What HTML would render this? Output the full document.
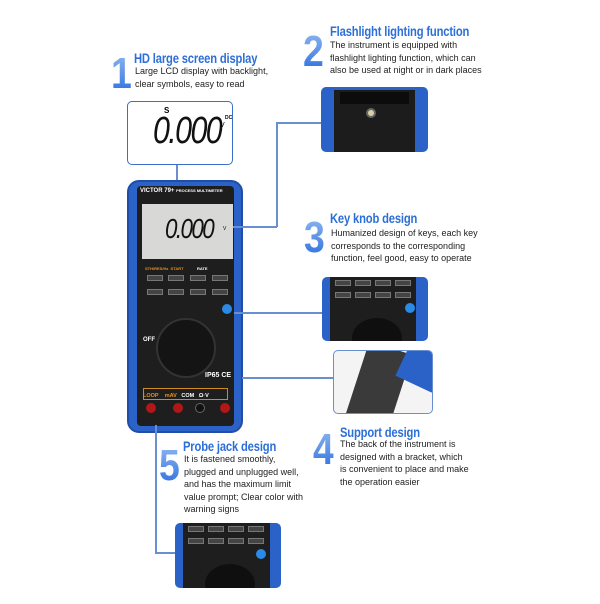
<!DOCTYPE html>
<html><head><meta charset="utf-8"><style>
*{margin:0;padding:0;box-sizing:border-box}
body{width:600px;height:600px;background:#fff;position:relative;overflow:hidden;font-family:"Liberation Sans",sans-serif}
.a{position:absolute}
.num{position:absolute;font-family:"Liberation Sans",sans-serif;font-weight:bold;color:#3a7de0;font-size:44px;line-height:44px;transform:scaleX(0.85);transform-origin:left top;background:linear-gradient(#8fb8f0,#2a6de0);-webkit-background-clip:text;background-clip:text;-webkit-text-fill-color:transparent}
.ttl{position:absolute;font-weight:bold;color:#2c6fd8;font-size:14px;letter-spacing:-0.2px;transform:scaleX(0.8);transform-origin:left top;white-space:nowrap}
.txt{position:absolute;font-size:9px;line-height:12.5px;color:#222;white-space:nowrap}
.ln{position:absolute;background:#6a8fd0}
.key{position:absolute;background:#444;border:1px solid #777;height:6px;width:16px}
</style></head><body>

<!-- 1 -->
<div class="num" style="left:111px;top:52px">1</div>
<div class="ttl" style="left:134px;top:50px">HD large screen display</div>
<div class="txt" style="left:135px;top:65px">Large LCD display with backlight,<br>clear symbols, easy to read</div>
<div class="a" style="left:127px;top:101px;width:106px;height:64px;border:1.5px solid #3b6fc8;border-radius:5px;background:#fff"></div>
<div class="a" style="left:164px;top:106px;font-size:8px;font-weight:bold">S</div>
<div class="a" style="left:153px;top:110px;font-family:'Liberation Sans';font-style:italic;font-size:38px;letter-spacing:-2px;transform:scaleX(0.8);transform-origin:left top;color:#111">0.000</div>
<div class="a" style="left:220px;top:122px;font-size:7px">V</div>
<div class="a" style="left:225px;top:115px;font-size:5px;font-weight:bold">DC</div>
<div class="ln" style="left:176px;top:165px;width:1.5px;height:22px"></div>

<!-- meter -->
<div class="a" style="left:127px;top:180px;width:116px;height:253px;background:#2a62c8;border-radius:12px;border:2px solid #1f4da8"></div>
<div class="a" style="left:137px;top:186px;width:97px;height:240px;background:#1e1e1e;border-radius:4px"></div>
<div class="a" style="left:140px;top:188px;font-size:6px;color:#fff;font-weight:bold">VICTOR 79+ <span style="font-size:4px">PROCESS MULTIMETER</span></div>
<div class="a" style="left:142px;top:204px;width:91px;height:55px;background:#d8d8d6"></div>
<div class="a" style="left:165px;top:213px;font-style:italic;font-size:28px;letter-spacing:-2px;transform:scaleX(0.8);transform-origin:left top;color:#111">0.000</div>
<div class="a" style="left:223px;top:226px;font-size:5px">V</div>
<div class="a" style="left:145px;top:266px;font-size:4px;color:#e89020;font-weight:bold">STH/RES/Hz&nbsp;&nbsp;START&nbsp;&nbsp;&nbsp;&nbsp;&nbsp;&nbsp;&nbsp;&nbsp;&nbsp;&nbsp;&nbsp;&nbsp;<span style="color:#fff">RATE</span></div>
<div class="key" style="left:147px;top:275px"></div><div class="key" style="left:168px;top:275px"></div><div class="key" style="left:190px;top:275px"></div><div class="key" style="left:212px;top:275px"></div>
<div class="key" style="left:147px;top:289px"></div><div class="key" style="left:168px;top:289px"></div><div class="key" style="left:190px;top:289px"></div><div class="key" style="left:212px;top:289px"></div>
<div class="a" style="left:156px;top:318px;width:60px;height:60px;border-radius:50%;background:#141414;border:2px solid #333"></div>
<div class="a" style="left:222px;top:304px;width:10px;height:10px;border-radius:50%;background:#2a8ae8"></div>
<div class="a" style="left:143px;top:337px;font-size:6px;color:#fff;font-weight:bold">OFF</div>
<div class="a" style="left:205px;top:372px;font-size:7px;color:#fff;font-weight:bold">IP65 CE</div>
<div class="a" style="left:143px;top:388px;width:85px;height:12px;border:1px solid #d08a20"></div>
<div class="a" style="left:143px;top:393px;font-size:5.5px;color:#e89020;font-weight:bold">LOOP&nbsp;&nbsp;&nbsp;&nbsp;mAV&nbsp;&nbsp;&nbsp;<span style="color:#fff">COM&nbsp;&nbsp;&nbsp;Ω·V</span></div>
<div class="a" style="left:146px;top:403px;width:10px;height:10px;border-radius:50%;background:#b01818"></div>
<div class="a" style="left:173px;top:403px;width:10px;height:10px;border-radius:50%;background:#b01818"></div>
<div class="a" style="left:195px;top:403px;width:10px;height:10px;border-radius:50%;background:#111;border:1px solid #666"></div>
<div class="a" style="left:220px;top:403px;width:10px;height:10px;border-radius:50%;background:#b01818"></div>

<!-- 2 -->
<div class="num" style="left:303px;top:30px">2</div>
<div class="ttl" style="left:330px;top:23px">Flashlight lighting function</div>
<div class="txt" style="left:330px;top:39px">The instrument is equipped with<br>flashlight lighting function, which can<br>also be used at night or in dark places</div>
<div class="ln" style="left:233px;top:226px;width:44px;height:1.5px"></div>
<div class="ln" style="left:276px;top:122px;width:1.5px;height:105px"></div>
<div class="ln" style="left:276px;top:122px;width:46px;height:1.5px"></div>
<div class="a" style="left:321px;top:87px;width:107px;height:65px;background:#2a62c8;border-radius:5px"></div>
<div class="a" style="left:334px;top:90px;width:81px;height:62px;background:#1c1c1c"></div>
<div class="a" style="left:340px;top:92px;width:69px;height:12px;background:#0c0c0c"></div>
<div class="a" style="left:366px;top:108px;width:10px;height:10px;border-radius:50%;background:#d8cfa8;border:2px solid #666"></div>

<!-- 3 -->
<div class="num" style="left:304px;top:216px">3</div>
<div class="ttl" style="left:330px;top:210px">Key knob design</div>
<div class="txt" style="left:331px;top:227px">Humanized design of keys, each key<br>corresponds to the corresponding<br>function, feel good, easy to operate</div>
<div class="ln" style="left:234px;top:312px;width:88px;height:1.5px"></div>
<div class="a" style="left:322px;top:277px;width:106px;height:64px;background:#2a62c8;border-radius:5px"></div>
<div class="a" style="left:330px;top:277px;width:86px;height:64px;background:#1e1e1e"></div>
<div class="key" style="left:335px;top:280px"></div><div class="key" style="left:355px;top:280px"></div><div class="key" style="left:375px;top:280px"></div><div class="key" style="left:395px;top:280px"></div>
<div class="key" style="left:335px;top:292px"></div><div class="key" style="left:355px;top:292px"></div><div class="key" style="left:375px;top:292px"></div><div class="key" style="left:395px;top:292px"></div>
<div class="a" style="left:352px;top:318px;width:50px;height:40px;border-radius:50%;background:#0f0f0f;clip-path:inset(0 0 17px 0)"></div>
<div class="a" style="left:405px;top:303px;width:10px;height:10px;border-radius:50%;background:#2a8ae8"></div>

<!-- support image -->
<div class="ln" style="left:242px;top:377px;width:91px;height:1.5px"></div>
<div class="a" style="left:333px;top:350px;width:100px;height:64px;border:1.5px solid #6a8fd0;border-radius:5px;background:#f4f4f4;overflow:hidden">
  <div class="a" style="left:22px;top:-5px;width:45px;height:80px;background:#3a3a3a;transform:rotate(18deg)"></div>
  <div class="a" style="left:68px;top:-5px;width:40px;height:40px;background:#2a62c8;transform:rotate(25deg)"></div>
</div>

<!-- 4 -->
<div class="num" style="left:313px;top:428px">4</div>
<div class="ttl" style="left:340px;top:424px">Support design</div>
<div class="txt" style="left:340px;top:438px">The back of the instrument is<br>designed with a bracket, which<br>is convenient to place and make<br>the operation easier</div>

<!-- 5 -->
<div class="num" style="left:159px;top:444px">5</div>
<div class="ttl" style="left:183px;top:438px">Probe jack design</div>
<div class="txt" style="left:184px;top:453px">It is fastened smoothly,<br>plugged and unplugged well,<br>and has the maximum limit<br>value prompt; Clear color with<br>warning signs</div>
<div class="ln" style="left:155px;top:425px;width:1.5px;height:128px"></div>
<div class="ln" style="left:155px;top:552px;width:22px;height:1.5px"></div>
<div class="a" style="left:175px;top:523px;width:106px;height:65px;background:#2a62c8;border-radius:5px"></div>
<div class="a" style="left:183px;top:523px;width:87px;height:65px;background:#1e1e1e"></div>
<div class="key" style="left:188px;top:526px"></div><div class="key" style="left:208px;top:526px"></div><div class="key" style="left:228px;top:526px"></div><div class="key" style="left:248px;top:526px"></div>
<div class="key" style="left:188px;top:538px"></div><div class="key" style="left:208px;top:538px"></div><div class="key" style="left:228px;top:538px"></div><div class="key" style="left:248px;top:538px"></div>
<div class="a" style="left:205px;top:564px;width:50px;height:40px;border-radius:50%;background:#0f0f0f;clip-path:inset(0 0 16px 0)"></div>
<div class="a" style="left:256px;top:549px;width:10px;height:10px;border-radius:50%;background:#2a8ae8"></div>
</body></html>
